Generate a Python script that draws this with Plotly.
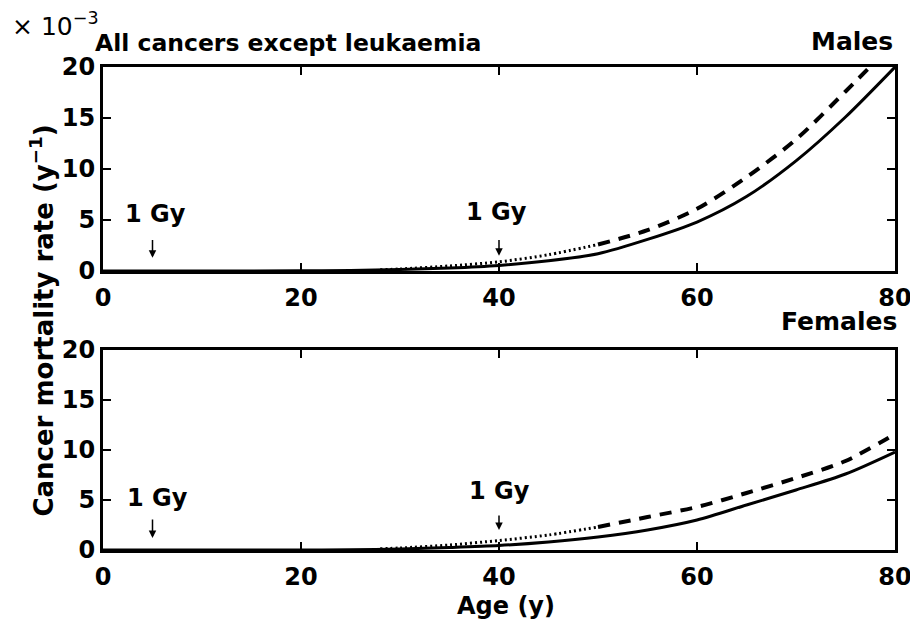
import plotly.graph_objects as go

# ---- data (rates x 10^-3 per year) ----
age_base = [0, 10, 20, 25, 30, 35, 40, 45, 50, 55, 60, 65, 70, 75, 80]
males_base = [0, 0, 0.02, 0.05, 0.15, 0.3, 0.55, 1.0, 1.7, 3.1, 4.8, 7.3, 10.8, 15.1, 20.0]
females_base = [0, 0, 0.0, 0.03, 0.1, 0.25, 0.45, 0.8, 1.3, 2.0, 3.0, 4.5, 6.0, 7.6, 9.8]

age_dot = [28, 30, 35, 40, 45, 50]
males_dot = [0.12, 0.2, 0.5, 0.9, 1.6, 2.6]
females_dot = [0.12, 0.2, 0.5, 0.95, 1.5, 2.3]

age_dash = [50, 55, 60, 65, 70, 75, 80]
males_dash = [2.6, 4.0, 6.1, 9.2, 12.9, 17.6, 22.5]
females_dash = [2.3, 3.3, 4.3, 5.7, 7.2, 8.9, 11.6]

exposure_ages = [5, 40]
x_ticks = [0, 20, 40, 60, 80]
y_ticks = [0, 5, 10, 15, 20]

FONT = "DejaVu Sans"

fig = go.Figure()

def add_panel(xa, ya, base, dot, dash):
    fig.add_trace(go.Scatter(x=age_base, y=base, mode="lines", xaxis=xa, yaxis=ya,
                             line=dict(color="black", width=3, shape="spline", smoothing=0.8),
                             showlegend=False))
    fig.add_trace(go.Scatter(x=age_dot, y=dot, mode="lines", xaxis=xa, yaxis=ya,
                             line=dict(color="black", width=3, dash="2px,3px", shape="spline",
                                       smoothing=0.8), showlegend=False))
    fig.add_trace(go.Scatter(x=age_dash, y=dash, mode="lines", xaxis=xa, yaxis=ya,
                             line=dict(color="black", width=4, dash="12px,9px", shape="spline",
                                       smoothing=0.8), showlegend=False))

add_panel("x", "y", males_base, males_dot, males_dash)
add_panel("x2", "y2", females_base, females_dot, females_dash)

tickfont = dict(family=FONT, size=24, color="black", weight="bold")
axis_common = dict(
    range=[0, 80], showline=True, linecolor="black", linewidth=3, mirror="allticks",
    ticks="inside", ticklen=8, tickwidth=2, tickcolor="black", showgrid=False,
    zeroline=False, tickvals=x_ticks, ticktext=[str(v) for v in x_ticks],
    tickfont=tickfont, ticklabelstandoff=3, automargin=False, ticklabeloverflow="allow",
)
yaxis_common = dict(
    range=[0, 20], showline=True, linecolor="black", linewidth=3, mirror="allticks",
    ticks="inside", ticklen=8, tickwidth=2, tickcolor="black", showgrid=False,
    zeroline=False, tickvals=y_ticks, ticktext=[str(v) for v in y_ticks],
    tickfont=tickfont, automargin=False, ticklabeloverflow="allow",
)

fig.update_layout(
    width=910, height=624,
    margin=dict(l=103, r=15, t=67, b=74, autoexpand=False),
    paper_bgcolor="white", plot_bgcolor="white",
    font=dict(family=FONT, size=24, color="black", weight="bold"),
    xaxis=dict(axis_common, domain=[0, 1], anchor="y"),
    yaxis=dict(yaxis_common, domain=[0.5776, 1], anchor="x"),
    xaxis2=dict(axis_common, domain=[0, 1], anchor="y2"),
    yaxis2=dict(yaxis_common, domain=[0, 0.414], anchor="x2"),
)

ann = []
# "1 Gy" labels and arrows
gy_pos = [("x", "y", 5.3, 5.6, 3.2, 1.3), ("x", "y", 39.7, 5.8, 3.2, 1.5),
          ("x2", "y2", 5.5, 5.2, 3.2, 1.2), ("x2", "y2", 40, 5.9, 3.6, 2.0)]
for i, (xr, yr, tx, ty, a0, a1) in enumerate(gy_pos):
    ax_age = exposure_ages[i % 2]
    ann.append(dict(x=tx, y=ty, xref=xr, yref=yr, text="1 Gy", showarrow=False,
                    font=dict(family=FONT, size=24, color="black", weight="bold")))
    ann.append(dict(x=ax_age, y=a1, xref=xr, yref=yr, ax=ax_age, ay=a0, axref=xr, ayref=yr,
                    text="", showarrow=True, arrowhead=2, arrowsize=1, arrowwidth=1.5,
                    arrowcolor="black"))

ann += [
    dict(x=-0.117, y=1.087, xref="paper", yref="paper", xanchor="left", yanchor="middle",
         text="× 10<sup>−3</sup>", showarrow=False,
         font=dict(family=FONT, size=25, weight="normal")),
    dict(x=-0.013, y=1.05, xref="paper", yref="paper", xanchor="left", yanchor="middle",
         text="All cancers except leukaemia", showarrow=False, font=dict(size=23.5)),
    dict(x=1.0, y=1.052, xref="paper", yref="paper", xanchor="right", yanchor="middle",
         text="Males", showarrow=False, font=dict(size=25)),
    dict(x=1.005, y=0.473, xref="paper", yref="paper", xanchor="right", yanchor="middle",
         text="Females", showarrow=False, font=dict(size=25)),
    dict(x=0.509, y=-0.116, xref="paper", yref="paper", xanchor="center", yanchor="middle",
         text="Age (y)", showarrow=False),
    dict(x=-0.077, y=0.475, xref="paper", yref="paper", xanchor="center", yanchor="middle",
         text="Cancer mortality rate (y<sup>−1</sup>)", textangle=-90, showarrow=False,
         font=dict(size=26)),
]
fig.update_layout(annotations=ann)

fig.write_html("out.html", config={"displayModeBar": False},
               post_script="document.body.style.margin='0';document.body.style.overflow='hidden';")
